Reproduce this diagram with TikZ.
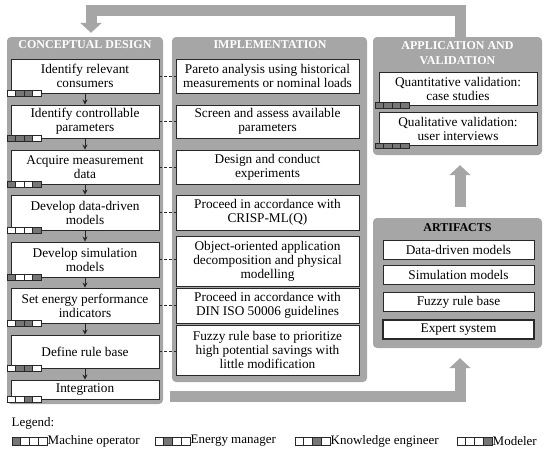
\documentclass[tikz,border=0pt]{standalone}
\usepackage{fontspec}
\setmainfont{Liberation Serif}
\usetikzlibrary{arrows.meta}
\definecolor{panelgray}{RGB}{166,166,166}
\definecolor{celldark}{RGB}{118,118,118}
\definecolor{boxline}{RGB}{40,40,40}
% role bar at the lower left corner of a box
\newcommand{\rolebar}[2]{%
  \foreach \c [count=\i from 0] in {#2}{%
    \ifnum\c=1 \def\cellfill{celldark}\else\def\cellfill{white}\fi
    \draw[rolecell, fill=\cellfill] ([shift={(\i*8.5pt-3.5pt,2.7pt)}]#1.south west) rectangle +(8.5pt,-5.4pt);
  }}
% role bar in front of a legend entry
\newcommand{\rolekey}[2]{%
  \foreach \c [count=\i from 0] in {#2}{%
    \ifnum\c=1 \def\cellfill{celldark}\else\def\cellfill{white}\fi
    \draw[rolecell, fill=\cellfill] ([shift={(\i*8.75pt-35pt,4pt)}]#1.west) rectangle +(8.75pt,-8pt);
  }}
\begin{document}
\begin{tikzpicture}[x=1pt,y=-1pt,
  panel/.style={fill=panelgray, rounded corners=4pt, inner sep=0pt},
  ptitle/.style={font=\fontsize{12}{14.5}\selectfont\bfseries, text=white, align=center},
  stepbox/.style={draw=boxline, fill=white, line width=0.9pt, align=center, inner sep=1pt,
    font=\fontsize{13.3}{14}\selectfont},
  leftbox/.style={stepbox, minimum width=148pt},
  midbox/.style={stepbox, minimum width=183pt},
  appbox/.style={stepbox, minimum width=158pt, minimum height=33pt},
  artbox/.style={stepbox, minimum width=151pt, minimum height=19pt},
  rolecell/.style={draw=boxline, line width=0.6pt},
  keytext/.style={font=\fontsize{13}{14}\selectfont, anchor=west, inner sep=0.5pt},
  flowarrow/.style={-{Stealth[length=5pt,width=5pt]}, line width=0.9pt, boxline},
  link/.style={boxline, line width=0.7pt, dash pattern=on 3pt off 2pt},
  bigarrow/.style={draw=panelgray, line width=11pt, -{Triangle[width=21pt,length=10pt]}}]
\useasboundingbox (0,0) rectangle (550,453);

% panels
\draw (85,220.5) node[panel, minimum width=156pt, minimum height=367pt] (cd) {};
\draw (269.5,209.5) node[panel, minimum width=195pt, minimum height=345pt] (impl) {};
\draw (457.5,96) node[panel, minimum width=169pt, minimum height=118pt] (app) {};
\draw (457.5,283) node[panel, minimum width=169pt, minimum height=130pt] (art) {};

\draw (85,45) node[ptitle] (cdtitle) {CONCEPTUAL DESIGN};
\draw (270,45) node[ptitle] (impltitle) {IMPLEMENTATION};
\draw (457.5,53) node[ptitle] (apptitle) {APPLICATION AND\\VALIDATION};
\draw (457.5,228) node[ptitle, text=black] (arttitle) {ARTIFACTS};

% conceptual design
\draw (85,76) node[leftbox, minimum height=34pt] (l1) {Identify relevant\\consumers};
\draw (85,121.5) node[leftbox, minimum height=33pt] (l2) {Identify controllable\\parameters};
\draw (85,167) node[leftbox, minimum height=34pt] (l3) {Acquire measurement\\data};
\draw (85,212.5) node[leftbox, minimum height=35pt] (l4) {Develop data-driven\\models};
\draw (85,259.5) node[leftbox, minimum height=35pt] (l5) {Develop simulation\\models};
\draw (85,305.5) node[leftbox, minimum height=35pt] (l6) {Set energy performance\\indicators};
\draw (85,351.5) node[leftbox, minimum height=33pt] (l7) {Define rule base};
\draw (85,389.5) node[leftbox, minimum height=19pt] (l8) {Integration};

\foreach \a/\b in {l1/l2,l2/l3,l3/l4,l4/l5,l5/l6,l6/l7,l7/l8}
  \draw[flowarrow] (\a.south) -- (\b.north);

% implementation
\draw (267.5,76) node[midbox, minimum height=34pt] (m1) {Pareto analysis using historical\\measurements or nominal loads};
\draw (267.5,121.5) node[midbox, minimum height=33pt] (m2) {Screen and assess available\\parameters};
\draw (267.5,167) node[midbox, minimum height=34pt] (m3) {Design and conduct\\experiments};
\draw (267.5,212.5) node[midbox, minimum height=35pt] (m4) {Proceed in accordance with\\CRISP-ML(Q)};
\draw (267.5,261) node[midbox, minimum height=50pt] (m5) {Object-oriented application\\decomposition and physical\\modelling};
\draw (267.5,305.5) node[midbox, minimum height=35pt] (m6) {Proceed in accordance with\\DIN ISO 50006 guidelines};
\draw (267.5,350) node[midbox, minimum height=50pt] (m7) {Fuzzy rule base to prioritize\\high potential savings with\\little modification};

\foreach \a/\b in {l1/m1,l2/m2,l3/m3,l4/m4,l5/m5,l6/m6,l7/m7}
  \draw[link] (\a.east) -- (\a.east -| \b.west);

% application and validation
\draw (458,88.5) node[appbox] (a1) {Quantitative validation:\\case studies};
\draw (458,129) node[appbox] (a2) {Qualitative validation:\\user interviews};

% artifacts
\draw (458.5,249.5) node[artbox] (r1) {Data-driven models};
\draw (458.5,274.5) node[artbox] (r2) {Simulation models};
\draw (458.5,302) node[artbox] (r3) {Fuzzy rule base};
\draw (458.5,329.5) node[artbox, line width=1.6pt] (r4) {Expert system};

% roles
\rolebar{l1}{0,1,1,0}
\rolebar{l2}{1,1,1,0}
\rolebar{l3}{1,0,0,1}
\rolebar{l4}{0,0,0,1}
\rolebar{l5}{1,0,0,1}
\rolebar{l6}{0,1,1,0}
\rolebar{l7}{0,1,1,0}
\rolebar{l8}{0,0,1,0}
\rolebar{a1}{1,1,1,1}
\rolebar{a2}{1,1,1,1}

% big arrows
\coordinate (ctop) at (91,10.5);
\coordinate (cbot) at (170,396.5);
\draw[bigarrow, shorten >=4pt] ([xshift=2.5pt]app.north) |- (ctop) -- (ctop |- cd.north);
\draw[bigarrow, shorten <=11pt, shorten >=10pt] ([xshift=2.5pt]art.north) -- ([xshift=2.5pt]app.south);
\draw[bigarrow, shorten >=10pt] (cbot) -| ([xshift=2.5pt]art.south);

% legend
\draw (11,423) node[keytext] (legend) {Legend:};
\draw (47,441) node[keytext] (kop) {Machine operator};
\draw (190,441) node[keytext] (kem) {Energy manager};
\draw (330,441) node[keytext] (kke) {Knowledge engineer};
\draw (492,441) node[keytext] (kmo) {Modeler};
\rolekey{kop}{1,0,0,0}
\rolekey{kem}{0,1,0,0}
\rolekey{kke}{0,0,1,0}
\rolekey{kmo}{0,0,0,1}
\end{tikzpicture}
\end{document}
